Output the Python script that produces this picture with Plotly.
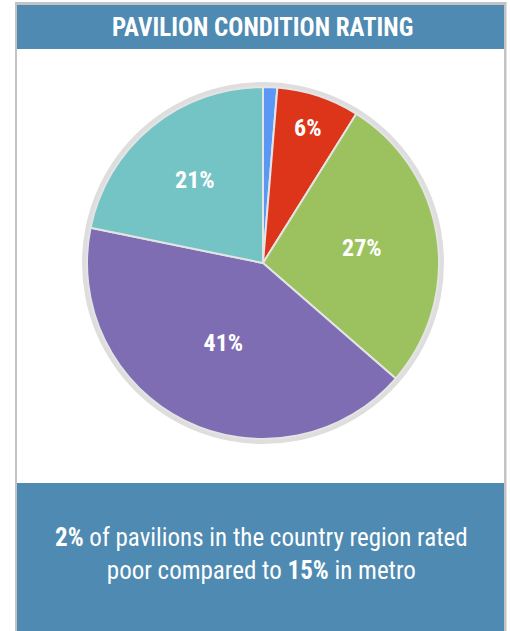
import plotly.graph_objects as go

W, H = 510, 631

# Data
categories = ["Very poor", "Poor", "Fair", "Good", "Very good"]
values = [1.3, 7.6, 27.5, 41.8, 21.8]
label_text = ["", "6%", "27%", "41%", "21%"]
colors = ["#5b97f5", "#dc3519", "#9bc25e", "#7f6db4", "#74c3c5"]

title_text = "PAVILION CONDITION RATING"
note_text = "<b>2%</b> of pavilions in the country region rated<br>poor compared to <b>15%</b> in metro"

FONT = "Roboto Condensed, Liberation Sans Narrow, Roboto, sans-serif"
BLUE = "#4e8ab1"
FRAME = "#c3c3c3"

def px(x):
    return x / W

def py(y):
    return 1 - y / H

cx, cy, r = 263, 263, 176

fig = go.Figure()
fig.add_trace(go.Pie(
    labels=categories,
    values=values,
    text=label_text,
    textinfo="text",
    texttemplate="%{text}",
    textposition="inside",
    insidetextorientation="horizontal",
    sort=False,
    direction="clockwise",
    rotation=0,
    marker=dict(colors=colors, line=dict(color="#e4e4e4", width=2)),
    textfont=dict(family=FONT, size=24, color="white", weight="bold"),
    hoverinfo="label+percent",
    showlegend=False,
    domain=dict(x=[px(cx - r), px(cx + r)], y=[py(cy + r), py(cy - r)]),
))

shapes = [
    # outer frame
    dict(type="rect", xref="paper", yref="paper", x0=px(15), x1=px(506.5), y0=py(640), y1=py(2),
         fillcolor=FRAME, line=dict(width=0), layer="below"),
    dict(type="rect", xref="paper", yref="paper", x0=px(17), x1=px(504), y0=py(640), y1=py(5),
         fillcolor="white", line=dict(width=0), layer="below"),
    # header band
    dict(type="rect", xref="paper", yref="paper", x0=px(17), x1=px(504), y0=py(49), y1=py(5),
         fillcolor=BLUE, line=dict(width=0), layer="below"),
    # bottom band
    dict(type="rect", xref="paper", yref="paper", x0=px(17), x1=px(504), y0=py(640), y1=py(483),
         fillcolor=BLUE, line=dict(width=0), layer="below"),
    # grey ring around pie
    dict(type="circle", xref="paper", yref="paper", x0=px(cx - r - 5), x1=px(cx + r + 5),
         y0=py(cy + r + 5), y1=py(cy - r - 5), fillcolor="#dedede", line=dict(width=0), layer="below"),
]

annotations = [
    dict(text="<b>" + title_text + "</b>", x=px(262), y=py(27), xref="paper", yref="paper",
         xanchor="center", yanchor="middle", showarrow=False,
         font=dict(family=FONT, size=25, color="white")),
    dict(text=note_text, x=px(261), y=py(554), xref="paper", yref="paper",
         xanchor="center", yanchor="middle", showarrow=False, align="center",
         font=dict(family=FONT, size=25, color="white")),
]

fig.update_layout(
    width=W, height=H,
    margin=dict(l=0, r=0, t=0, b=0),
    paper_bgcolor="white",
    plot_bgcolor="white",
    shapes=shapes,
    annotations=annotations,
    showlegend=False,
)

fig.write_html(
    "out.html",
    config={"displayModeBar": False},
    post_script="document.body.style.margin='0';document.body.style.padding='0';"
                "document.body.style.overflow='hidden';",
)
